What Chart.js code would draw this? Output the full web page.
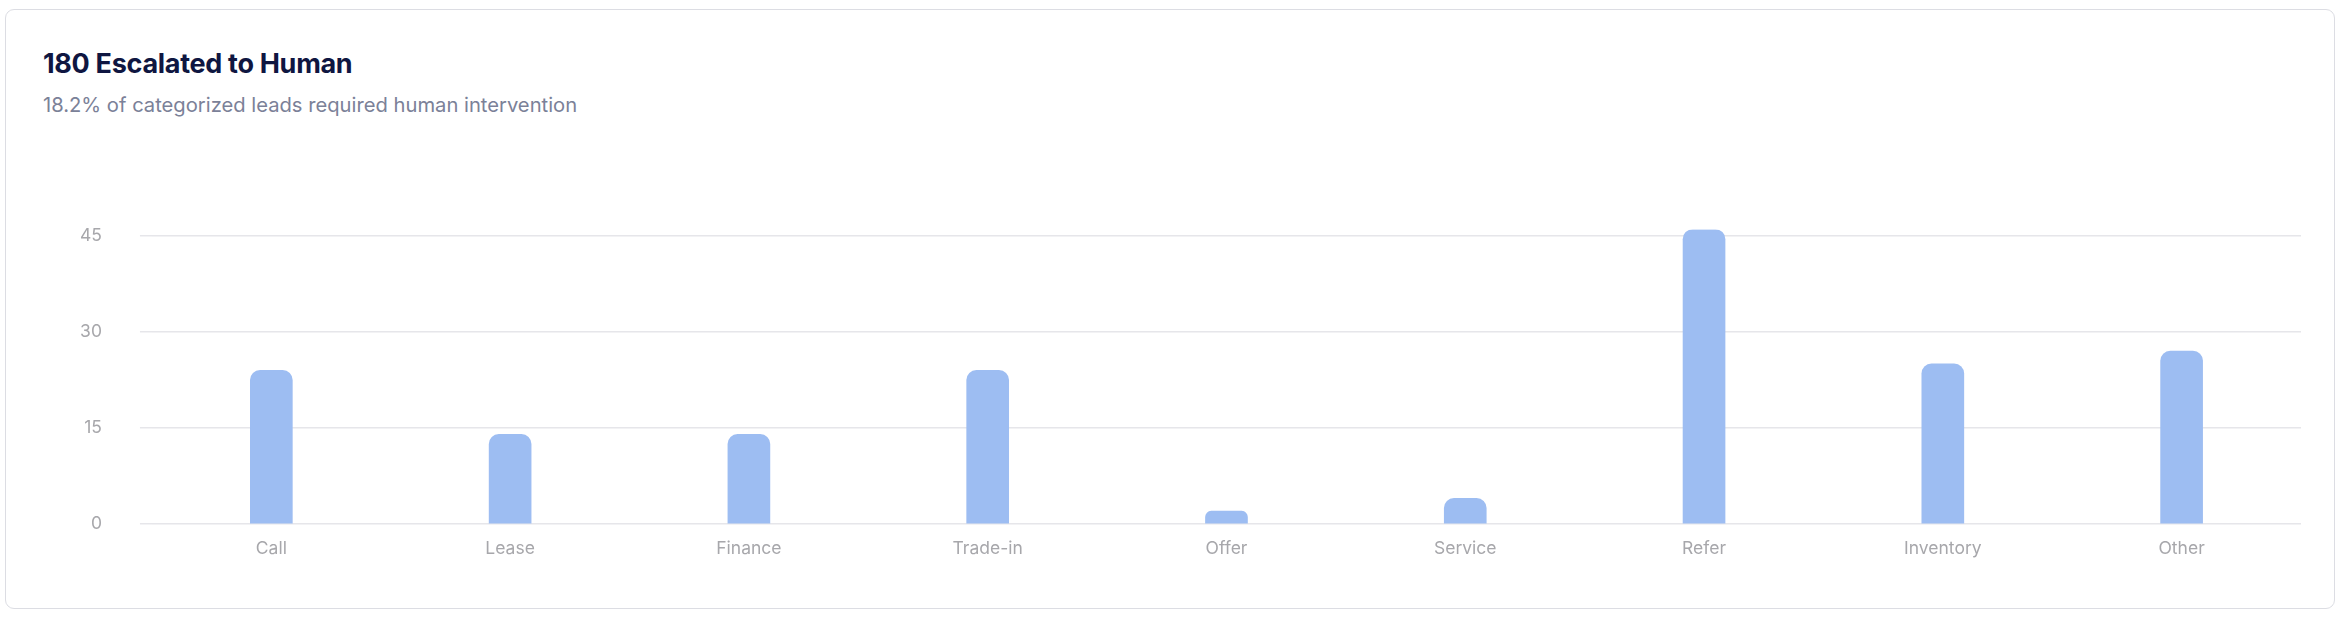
<!DOCTYPE html>
<html>
<head>
<meta charset="utf-8">
<script src="https://cdn.jsdelivr.net/npm/chart.js@4/dist/chart.umd.min.js"></script>
<style>
  html, body { margin: 0; padding: 0; background: #fff; }
  body { width: 2340px; height: 630px; position: relative; font-family: Inter, "Noto Sans", sans-serif; }
  .card {
    position: absolute; left: 5px; top: 9px; width: 2330px; height: 600px;
    border: 1px solid #dcdde3; border-radius: 9px; box-sizing: border-box;
  }
  .title {
    position: absolute; left: 43px; top: 47px; margin: 0;
    font-size: 27px; font-weight: 700; color: #0f1641; letter-spacing: -0.3px;
  }
  .sub {
    position: absolute; left: 43px; top: 92px; margin: 0;
    font-size: 20.2px; font-weight: 400; color: #7b8198;
  }
  .wrap { position: absolute; left: 42px; top: 181px; width: 2259px; height: 392px; }
</style>
</head>
<body>
<div class="card"></div>
<h1 class="title">180 Escalated to Human</h1>
<p class="sub">18.2% of categorized leads required human intervention</p>
<div class="wrap"><canvas id="escChart"></canvas></div>

<script>
// escalations by lead category
const categories = ["Call", "Lease", "Finance", "Trade-in", "Offer", "Service", "Refer", "Inventory", "Other"];
const escalated = [24, 14, 14, 24, 2, 4, 46, 25, 27];
const yTicks = [0, 15, 30, 45];

const gridColor = '#e6e6ea';
const tickColor = '#a7a7ab';

let ctx = document.getElementById("escChart").getContext("2d");

const escChart = new Chart(ctx, {
  type: 'bar',
  data: {
    labels: categories,
    datasets: [{
      label: 'Escalated',
      data: escalated,
      backgroundColor: '#9dbdf2',
      borderWidth: 0,
      borderRadius: 10,
      borderSkipped: 'bottom',
      barThickness: 42
    }]
  },
  options: {
    responsive: true,
    maintainAspectRatio: false,
    animation: false,
    layout: { padding: { top: 20, right: 0, bottom: 0, left: 0 } },
    plugins: {
      legend: { display: false },
      tooltip: { enabled: false }
    },
    scales: {
      x: {
        grid: { display: false, drawTicks: false },
        border: { display: false },
        ticks: {
          color: tickColor,
          padding: 14,
          font: { family: 'Inter', size: 17.5 }
        }
      },
      y: {
        min: 0,
        max: Math.max(...escalated),
        grid: { color: gridColor, lineWidth: 1.5, tickLength: 12, tickColor: gridColor },
        border: { display: false },
        afterBuildTicks: (axis) => {
          axis.ticks = yTicks.map(v => ({ value: v }));
        },
        ticks: {
          color: tickColor,
          padding: 38,
          font: { family: 'Inter', size: 17.5 }
        }
      }
    }
  }
});
</script>
</body>
</html>
